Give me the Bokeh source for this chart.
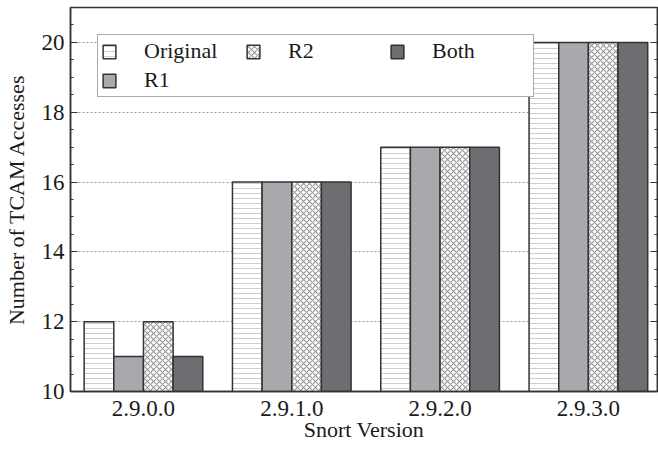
from bokeh.plotting import figure
from bokeh.models import (Range1d, LinearAxis, SingleIntervalTicker, FixedTicker,
                          Legend, LegendItem, ColumnDataSource)
from bokeh.transform import dodge
from bokeh.embed import file_html
from bokeh.resources import INLINE

# ---- data ----
versions = ["2.9.0.0", "2.9.1.0", "2.9.2.0", "2.9.3.0"]
series_names = ["Original", "R1", "R2", "Both"]
original = [12, 16, 17, 20]
r1 = [11, 16, 17, 20]
r2 = [12, 16, 17, 20]
both = [11, 16, 17, 20]

FONT = "Liberation Serif"
TXT = "#1a1a1a"
EDGE = "#333333"

source = ColumnDataSource(dict(x=list(range(len(versions))),
                               Original=original, R1=r1, R2=r2, Both=both))

p = figure(width=658, height=453, output_backend="svg", toolbar_location=None,
           x_range=Range1d(-0.492, 3.466), y_range=Range1d(10, 21),
           min_border_left=70, min_border_right=1, min_border_top=7,
           min_border_bottom=62)

styles = {
    "Original": dict(fill_color="white", hatch_pattern="horizontal_line",
                     hatch_color="#cfcfcf", hatch_scale=5, hatch_weight=1),
    "R1": dict(fill_color="#a7a9ac"),
    "R2": dict(fill_color="white", hatch_pattern="diagonal_cross",
               hatch_color="#9a9a9a", hatch_scale=6, hatch_weight=1.2),
    "Both": dict(fill_color="#6d6e71"),
}
offsets = [-0.3, -0.1, 0.1, 0.3]
renderers = {}
for name, off in zip(series_names, offsets):
    renderers[name] = p.vbar(x=dodge("x", off, range=p.x_range), top=name, bottom=10,
                             width=0.2, source=source, line_color=EDGE,
                             line_width=1.5, **styles[name])

dummy = p.vbar(x=[0], top=[10], bottom=[10], width=0.0, fill_alpha=0, line_alpha=0)

# axes
p.xaxis.ticker = FixedTicker(ticks=list(range(len(versions))))
p.xaxis.major_label_overrides = {i: v for i, v in enumerate(versions)}
p.xaxis.major_tick_in = 0
p.xaxis.major_tick_out = 0
p.xaxis.axis_label = "Snort Version"

p.yaxis.ticker = SingleIntervalTicker(interval=2, num_minor_ticks=4)
p.yaxis.axis_label = "Number of TCAM Accesses"
p.yaxis.major_tick_in = 7
p.yaxis.major_tick_out = 0
p.yaxis.minor_tick_in = 3
p.yaxis.minor_tick_out = 0

xa = p.xaxis[0]
ya = p.yaxis[0]
for ax in (xa, ya):
    ax.axis_line_color = EDGE
    ax.axis_line_width = 1.5
    ax.major_tick_line_color = EDGE
    ax.major_label_text_font = FONT
    ax.major_label_text_font_size = "23px"
    ax.major_label_text_color = TXT
    ax.axis_label_text_font = FONT
    ax.axis_label_text_font_style = "normal"
    ax.axis_label_text_color = TXT
xa.minor_tick_line_color = None
ya.minor_tick_line_color = EDGE
xa.axis_label_text_font_size = "22px"
ya.axis_label_text_font_size = "22px"

xa.major_label_standoff = 9
xa.axis_label_standoff = -2
ya.major_label_standoff = 6
ya.axis_label_standoff = 10

right = LinearAxis(ticker=SingleIntervalTicker(interval=2, num_minor_ticks=4),
                   major_label_text_color=None, major_label_text_font_size="1px",
                   major_label_standoff=0,
                   major_tick_in=7, major_tick_out=0, minor_tick_in=3, minor_tick_out=0,
                   axis_line_color=EDGE, major_tick_line_color=EDGE,
                   minor_tick_line_color=EDGE, axis_line_width=1.5)
p.add_layout(right, "right")

p.xgrid.grid_line_color = None
p.ygrid.ticker = SingleIntervalTicker(interval=2)
p.ygrid.grid_line_color = "#9a9a9a"
p.ygrid.grid_line_dash = "2 2"
p.ygrid.grid_line_width = 1

p.outline_line_color = EDGE
p.outline_line_width = 1.5
p.background_fill_color = "white"
p.border_fill_color = "white"

items = [
    LegendItem(label="Original", renderers=[renderers["Original"]]),
    LegendItem(label="R1", renderers=[renderers["R1"]]),
    LegendItem(label="R2", renderers=[renderers["R2"]]),
    LegendItem(label=" ", renderers=[dummy]),
    LegendItem(label="Both", renderers=[renderers["Both"]]),
]
legend = Legend(items=items, location="top_left", orientation="vertical", nrows=2,
                margin=27, padding=3, spacing=3, glyph_width=16, glyph_height=17,
                label_standoff=27, label_width=98, label_text_font=FONT,
                label_text_font_size="22px", label_text_color=TXT,
                border_line_color="#555555", border_line_width=1.5,
                background_fill_color="white", background_fill_alpha=1)
p.add_layout(legend, "center")

open("out.html", "w").write(file_html(p, INLINE))
